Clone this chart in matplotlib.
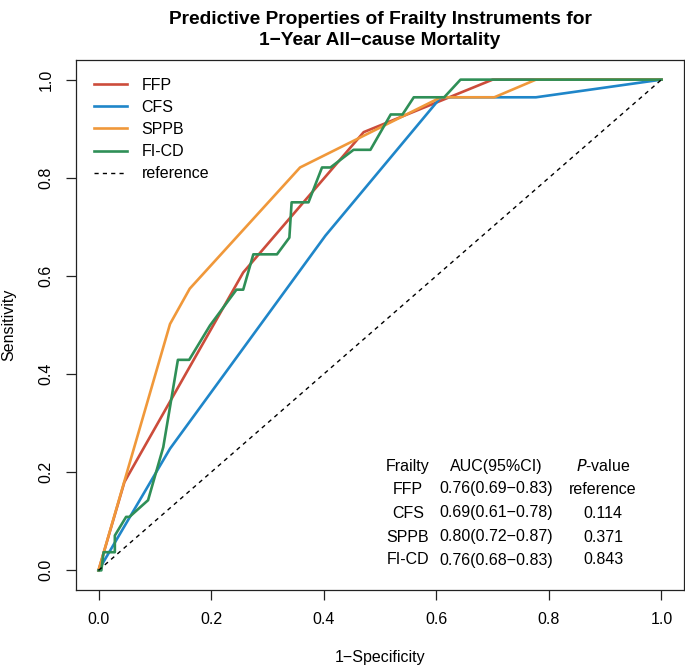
import numpy as np
from matplotlib import pyplot as plt

plt.rcParams['font.family'] = ['Liberation Sans', 'DejaVu Sans']

# ROC points (1-specificity, sensitivity)
ffp_x = [0.0, 0.046, 0.257, 0.471, 0.70, 1.0]
ffp_y = [0.0, 0.18, 0.607, 0.893, 1.0, 1.0]

cfs_x = [0.0, 0.127, 0.403, 0.608, 0.777, 1.0]
cfs_y = [0.0, 0.248, 0.682, 0.964, 0.964, 1.0]

sppb_x = [0.0, 0.127, 0.162, 0.358, 0.608, 0.703, 0.777, 1.0]
sppb_y = [0.0, 0.502, 0.574, 0.821, 0.964, 0.964, 1.0, 1.0]

ficd_x = [0.0, 0.005, 0.009, 0.029, 0.029, 0.049, 0.055, 0.088, 0.115, 0.141, 0.161,
          0.198, 0.245, 0.257, 0.275, 0.317, 0.339, 0.343, 0.373, 0.397, 0.412,
          0.453, 0.483, 0.519, 0.540, 0.560, 0.614, 0.643, 1.0]
ficd_y = [0.0, 0.0, 0.037, 0.037, 0.071, 0.109, 0.109, 0.143, 0.251, 0.429, 0.429,
          0.499, 0.572, 0.572, 0.644, 0.644, 0.678, 0.750, 0.750, 0.821, 0.821,
          0.857, 0.857, 0.929, 0.929, 0.964, 0.964, 1.0, 1.0]

names = ['FFP', 'CFS', 'SPPB', 'FI-CD']
auc = ['0.76(0.69\u22120.83)', '0.69(0.61\u22120.78)', '0.80(0.72\u22120.87)', '0.76(0.68\u22120.83)']
pvals = ['reference', '0.114', '0.371', '0.843']
colors = ['#cc4c3b', '#1f86c9', '#f0983a', '#2f8f57']

fs = 11.5
fig = plt.figure(figsize=(6.85, 6.69), dpi=100)
ax = fig.add_axes([76/685, 1-590/669, 608/685, 530/669])

curves = [(ffp_x, ffp_y), (cfs_x, cfs_y), (sppb_x, sppb_y), (ficd_x, ficd_y)]
for (xs, ys), nm, c in zip(curves, names, colors):
    ax.plot(xs, ys, color=c, lw=1.9, label=nm)
ax.plot([0, 1], [0, 1], color='black', lw=1.0, ls=(0, (3, 3)), label='reference')

ax.set_xlim(-0.04, 1.04)
ax.set_ylim(-0.04, 1.04)
ticks = np.arange(0, 1.01, 0.2)
ax.set_xticks(ticks)
ax.set_yticks(ticks)
ax.set_xticklabels([f'{t:.1f}' for t in ticks], fontsize=fs)
ax.set_yticklabels([f'{t:.1f}' for t in ticks], fontsize=fs, rotation=90, va='center')
ax.tick_params(length=7.2, width=0.9, pad=9, color='#222222')
for s in ax.spines.values():
    s.set_linewidth(0.9)
    s.set_color('#222222')

ax.set_xlabel('1\u2212Specificity', fontsize=fs, labelpad=16)
ax.set_ylabel('Sensitivity', fontsize=fs, labelpad=16)
ax.set_title('Predictive Properties of Frailty Instruments for\n1\u2212Year All\u2212cause Mortality',
             fontsize=13.8, fontweight='bold', pad=11, linespacing=1.3)

ax.legend(loc='upper left', bbox_to_anchor=(0.0, 1.0), frameon=False, fontsize=fs,
          handlelength=2.1, handletextpad=0.9, labelspacing=0.45, borderaxespad=0.7)

# AUC table
def px(x, y):
    return x/685, 1 - y/669

row_y = [466, 489, 513, 537, 560]
fig.text(*px(408, row_y[0]), 'Frailty', ha='center', va='center', fontsize=fs)
fig.text(*px(496, row_y[0]), 'AUC(95%CI)', ha='center', va='center', fontsize=fs)
fig.text(*px(603, row_y[0]), '$\\it{P}$-value', ha='center', va='center', fontsize=fs)
for i in range(4):
    fig.text(*px(408, row_y[i+1]), names[i], ha='center', va='center', fontsize=fs)
    fig.text(*px(496, row_y[i+1]), auc[i], ha='center', va='center', fontsize=fs)
    fig.text(*px(603, row_y[i+1]), pvals[i], ha='center', va='center', fontsize=fs)

plt.savefig('out.png', dpi=100)
